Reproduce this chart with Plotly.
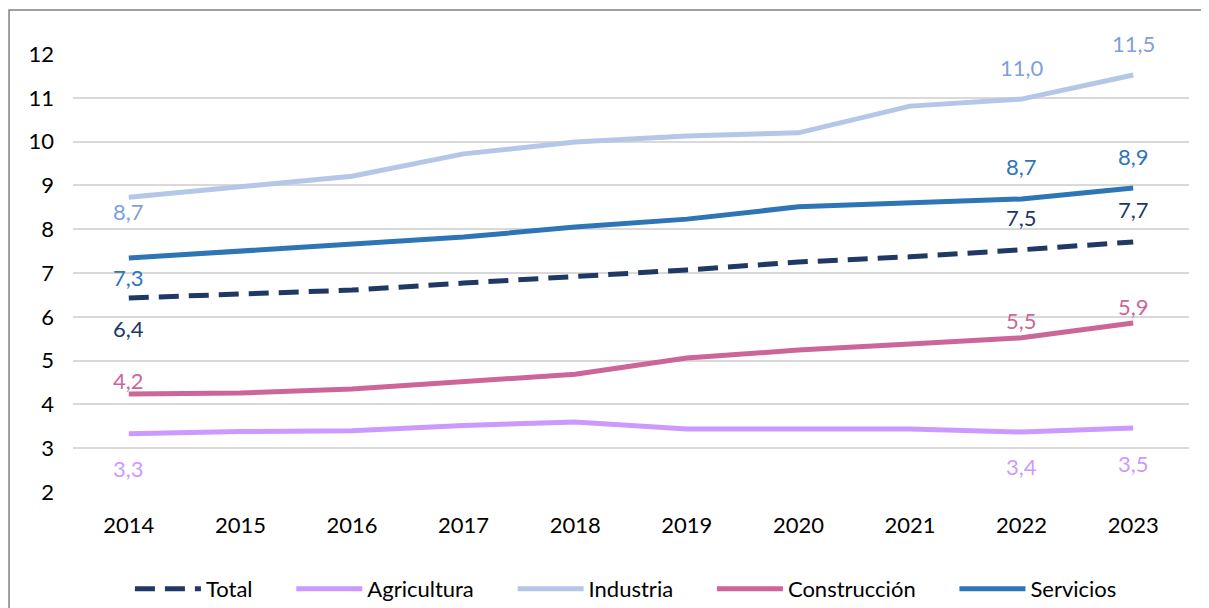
import plotly.graph_objects as go

years = [2014, 2015, 2016, 2017, 2018, 2019, 2020, 2021, 2022, 2023]
total = [6.43, 6.52, 6.61, 6.77, 6.91, 7.07, 7.25, 7.37, 7.53, 7.71]
agricultura = [3.33, 3.38, 3.40, 3.52, 3.60, 3.44, 3.44, 3.44, 3.37, 3.46]
industria = [8.73, 8.96, 9.21, 9.72, 9.99, 10.13, 10.20, 10.81, 10.97, 11.52]
construccion = [4.24, 4.26, 4.35, 4.51, 4.69, 5.06, 5.24, 5.38, 5.52, 5.86]
servicios = [7.34, 7.50, 7.66, 7.82, 8.05, 8.23, 8.51, 8.60, 8.69, 8.94]
y_ticks = [2, 3, 4, 5, 6, 7, 8, 9, 10, 11, 12]

FONT = "Lato, Carlito, Calibri, sans-serif"
PAD = "\u00a0" * 6

series = [
    ("Total", total, "#203864", "#203864", "20px,10px"),
    ("Agricultura", agricultura, "#CC99FF", "#CC99FF", "solid"),
    ("Industria", industria, "#B4C7E7", "#7F9FDB", "solid"),
    ("Construcción", construccion, "#CC6699", "#CC6699", "solid"),
    ("Servicios", servicios, "#2E75B6", "#2E75B6", "solid"),
]

# label placement: index of point -> vertical pixel shift (style, not data)
label_shifts = {
    "Total": {0: -31, 8: 32, 9: 32},
    "Agricultura": {0: -35, 8: -35, 9: -35},
    "Industria": {0: -14, 8: 32, 9: 32},
    "Construcción": {0: 13, 8: 17, 9: 16},
    "Servicios": {0: -19, 8: 32, 9: 32},
}

fig = go.Figure()
annotations = []
for name, vals, color, lcolor, dash in series:
    fig.add_trace(go.Scatter(
        x=years, y=vals, name=name + PAD, mode="lines",
        line=dict(color=color, width=5, dash=dash),
    ))
    for i, sh in label_shifts[name].items():
        annotations.append(dict(
            x=years[i], y=vals[i], xref="x", yref="y",
            text=f"{vals[i]:.1f}".replace(".", ","),
            showarrow=False, yshift=sh,
            font=dict(family=FONT, size=22, color=lcolor),
        ))

# the page body adds an 8px margin, so the figure is 8px smaller than the window
fig.update_layout(
    width=1201, height=600,
    margin=dict(l=65, r=20, t=46, b=116, autoexpand=False),
    paper_bgcolor="white", plot_bgcolor="white",
    font=dict(family=FONT, size=22, color="#000000"),
    showlegend=True,
    legend=dict(orientation="h", x=0.051, xanchor="left", y=-0.2215, yanchor="middle",
                font=dict(family=FONT, size=22, color="#000000"),
                itemwidth=66, traceorder="normal"),
    annotations=annotations,
    shapes=[dict(type="rect", xref="paper", yref="paper",
                 x0=-0.0573, x1=1.2, y0=-0.5, y1=1.1005,
                 line=dict(color="#808080", width=1.5), layer="below")],
)
fig.update_xaxes(range=[2013.5, 2023.5], tickvals=years, showgrid=False, zeroline=False,
                 showline=False, ticks="", ticklabelstandoff=18, automargin=False,
                 tickfont=dict(family=FONT, size=22, color="#000000"))
fig.update_yaxes(range=[2, 12], tickvals=y_ticks, showgrid=True, gridcolor="#D9D9D9",
                 gridwidth=1.5, zeroline=False, showline=False, ticks="",
                 ticklabelstandoff=18, automargin=False,
                 tickfont=dict(family=FONT, size=22, color="#000000"))

fig.write_html("out.html")
